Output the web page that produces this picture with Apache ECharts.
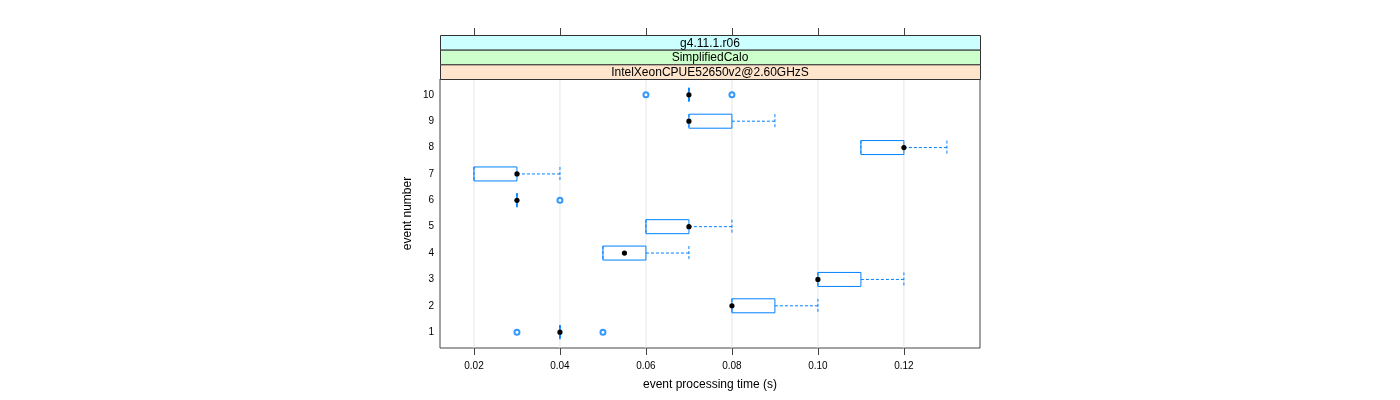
<!DOCTYPE html>
<html>
<head>
<meta charset="utf-8">
<script src="https://cdn.jsdelivr.net/npm/echarts@6/dist/echarts.min.js"></script>
<style>
html,body{margin:0;padding:0;background:#fff;}
#chart{width:1400px;height:400px;}
</style>
</head>
<body>
<div id="chart"></div>
<script>
// ---- data ----
var events = [1, 2, 3, 4, 5, 6, 7, 8, 9, 10];
var lowWhisker = [0.04, 0.08, 0.10, 0.05, 0.06, 0.03, 0.02, 0.11, 0.07, 0.07];
var q1 =         [0.04, 0.08, 0.10, 0.05, 0.06, 0.03, 0.02, 0.11, 0.07, 0.07];
var medians =    [0.04, 0.08, 0.10, 0.055, 0.07, 0.03, 0.03, 0.12, 0.07, 0.07];
var q3 =         [0.04, 0.09, 0.11, 0.06, 0.07, 0.03, 0.03, 0.12, 0.08, 0.07];
var highWhisker =[0.04, 0.10, 0.12, 0.07, 0.08, 0.03, 0.04, 0.13, 0.09, 0.07];
var outlierEvents = [1, 1, 6, 10, 10];
var outlierValues = [0.03, 0.05, 0.04, 0.06, 0.08];
var xTicks = [0.02, 0.04, 0.06, 0.08, 0.10, 0.12];
var yTicks = [1, 2, 3, 4, 5, 6, 7, 8, 9, 10];
var stripLabels = ["g4.11.1.r06", "SimplifiedCalo", "IntelXeonCPUE52650v2@2.60GHzS"];

// ---- build ----
var boxData = events.map(function (e, i) {
  return [e, lowWhisker[i], q1[i], medians[i], q3[i], highWhisker[i]];
});
var outlierData = outlierEvents.map(function (e, i) { return [outlierValues[i], e]; });
var gridData = xTicks.map(function (v) { return [v]; });

var BLUE = '#0080ff';
var FONT = 'Liberation Sans, Arial, Helvetica, sans-serif';
var PL = 440, PR = 980, PT = 79, PB = 348;
var stripTop = 35, stripH = (PT - stripTop) / 3;
var stripColors = ['#ccffff', '#ccffcc', '#ffe5cc'];

var graphics = [];
stripLabels.forEach(function (t, i) {
  graphics.push({
    type: 'rect',
    shape: { x: PL + 0.5, y: stripTop + i * stripH + 0.5, width: PR - PL, height: stripH },
    style: { fill: stripColors[i], stroke: '#333', lineWidth: 1 },
    z: 10
  });
  graphics.push({
    type: 'text',
    x: (PL + PR) / 2,
    y: stripTop + i * stripH + stripH / 2 + 1,
    style: { text: t, font: '12px ' + FONT, fill: '#000', align: 'center', verticalAlign: 'middle' },
    z: 11
  });
});

var chart = echarts.init(document.getElementById('chart'), null, { renderer: 'canvas' });
chart.setOption({
  animation: false,
  backgroundColor: '#fff',
  textStyle: { fontFamily: FONT },
  grid: { left: PL, right: 1400 - PR, top: PT, bottom: 400 - PB, show: true, borderColor: '#444', borderWidth: 1, backgroundColor: 'transparent' },
  graphic: graphics,
  xAxis: [{
    type: 'value', min: 0.0121, max: 0.1377, position: 'bottom',
    name: 'event processing time (s)', nameLocation: 'middle', nameGap: 31,
    nameTextStyle: { fontSize: 12, color: '#000', fontFamily: FONT },
    axisLine: { show: false },
    axisTick: { show: true, length: 7, customValues: xTicks, lineStyle: { color: '#444' } },
    axisLabel: { customValues: xTicks, fontSize: 10, color: '#000', margin: 13, fontFamily: FONT,
      formatter: function (v) { return v.toFixed(2); } },
    splitLine: { show: false }
  }, {
    type: 'value', min: 0.0121, max: 0.1377, position: 'top', offset: PT - stripTop,
    axisLine: { show: false },
    axisTick: { show: true, length: 7, customValues: xTicks, lineStyle: { color: '#444' } },
    axisLabel: { show: false },
    splitLine: { show: false }
  }],
  yAxis: {
    type: 'value', min: 0.4, max: 10.6,
    name: 'event number', nameLocation: 'middle', nameGap: 26,
    nameTextStyle: { fontSize: 12, color: '#000', fontFamily: FONT },
    axisLine: { show: false },
    axisTick: { show: false },
    axisLabel: { customValues: yTicks, fontSize: 10, color: '#000', margin: 6, fontFamily: FONT },
    splitLine: { show: false }
  },
  series: [{
    type: 'custom',
    name: 'grid',
    data: gridData,
    z: 1,
    silent: true,
    renderItem: function (params, api) {
      var x = api.coord([api.value(0), 0.4])[0];
      return { type: 'line', shape: { x1: x, y1: PT, x2: x, y2: PB }, style: { stroke: '#e6e6e6', lineWidth: 1 } };
    }
  }, {
    type: 'custom',
    name: 'box',
    data: boxData,
    z: 3,
    encode: { x: [1, 2, 3, 4, 5], y: 0 },
    renderItem: function (params, api) {
      var e = api.value(0);
      var lo = api.coord([api.value(1), e]);
      var a = api.coord([api.value(2), e]);
      var m = api.coord([api.value(3), e]);
      var b = api.coord([api.value(4), e]);
      var hi = api.coord([api.value(5), e]);
      var h = 7;
      var y = m[1];
      var dash = { stroke: BLUE, lineWidth: 1, lineDash: [3, 2] };
      return {
        type: 'group',
        children: [
          { type: 'line', shape: { x1: b[0], y1: y, x2: hi[0], y2: y }, style: dash },
          { type: 'line', shape: { x1: hi[0], y1: y - h, x2: hi[0], y2: y + h }, style: dash },
          { type: 'line', shape: { x1: lo[0], y1: y, x2: a[0], y2: y }, style: dash },
          { type: 'line', shape: { x1: lo[0], y1: y - h, x2: lo[0], y2: y + h }, style: dash },
          { type: 'rect', shape: { x: a[0], y: y - h, width: b[0] - a[0], height: 2 * h }, style: { fill: 'none', stroke: BLUE, lineWidth: 1 } },
          { type: 'circle', shape: { cx: m[0], cy: y, r: 2.6 }, style: { fill: '#000' }, z2: 5 }
        ]
      };
    }
  }, {
    type: 'scatter',
    name: 'outliers',
    data: outlierData,
    symbol: 'emptyCircle',
    symbolSize: 5,
    itemStyle: { color: BLUE, borderColor: BLUE, borderWidth: 1.5 },
    z: 4
  }]
});
</script>
</body>
</html>
